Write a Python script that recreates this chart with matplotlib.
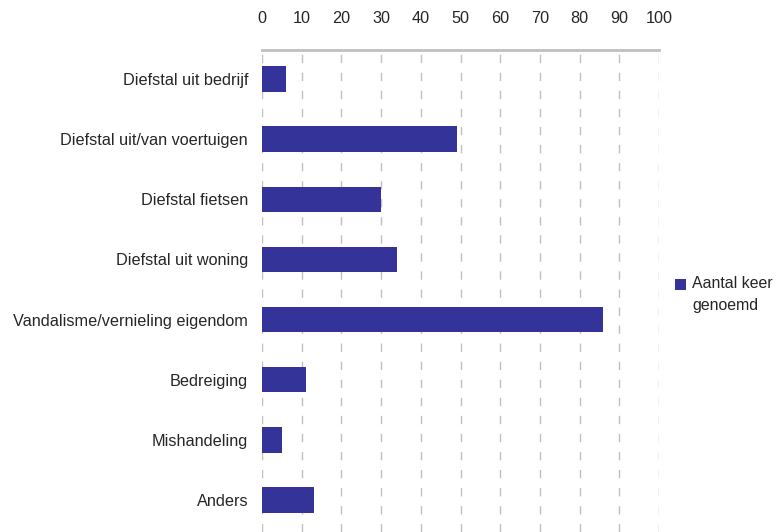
import matplotlib
matplotlib.use('Agg')
from matplotlib import pyplot as plt
from matplotlib.patches import Rectangle

plt.rcParams['font.family'] = ['Liberation Sans', 'DejaVu Sans']

categories = ['Diefstal uit bedrijf', 'Diefstal uit/van voertuigen', 'Diefstal fietsen',
              'Diefstal uit woning', 'Vandalisme/vernieling eigendom', 'Bedreiging',
              'Mishandeling', 'Anders']
values = [6, 49, 30, 34, 86, 11, 5, 13]
ticks = list(range(0, 101, 10))
series_name = 'Aantal keer\ngenoemd'

bar_color = '#333399'
text_color = '#262626'

W, H = 776, 532
fig = plt.figure(figsize=(W/100, H/100), dpi=100)
ax = fig.add_axes([262/W, 0.0, (659-262)/W, 1 - 50/H])

ax.barh(range(len(categories)), values, height=0.42, color=bar_color, zorder=3)

ax.set_xlim(0, 100)
ax.set_ylim(7.53, -0.48)
ax.set_xticks(ticks)
ax.set_yticks(range(len(categories)))
ax.set_yticklabels(categories)
ax.xaxis.tick_top()
ax.tick_params(axis='both', length=0, labelsize=11.7, colors=text_color)
ax.tick_params(axis='x', pad=17)
ax.tick_params(axis='y', pad=10)

ax.grid(axis='x', color='#c0c0c0', linestyle=(0, (6, 7)), linewidth=1, zorder=0)
for s in ['left', 'right', 'bottom']:
    ax.spines[s].set_visible(False)
ax.spines['top'].set_color('#c0c0c0')
ax.spines['top'].set_linewidth(2)

# legend drawn by hand: marker sits beside the first line
fig.patches.append(Rectangle((675/W, 1 - 290/H), 11/W, 11/H, transform=fig.transFigure,
                             facecolor=bar_color, edgecolor='none'))
fig.text(692/W, 1 - 276/H, series_name, ha='left', va='top', fontsize=11.4,
         color=text_color, linespacing=1.55)

plt.savefig('out.png', dpi=100)
